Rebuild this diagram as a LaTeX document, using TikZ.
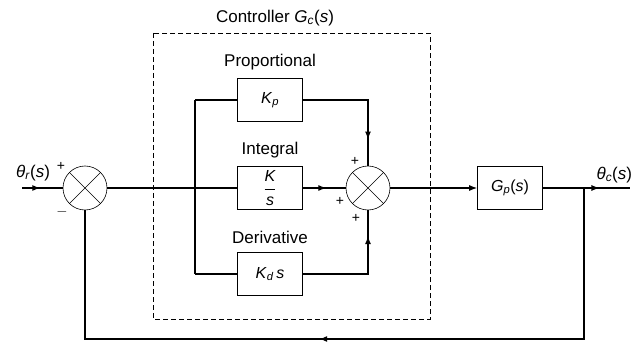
\documentclass[tikz,border=0pt]{standalone}
\usepackage{fontspec}
\setmainfont{Liberation Sans}
\usetikzlibrary{arrows.meta,decorations.markings}
\begin{document}
\begin{tikzpicture}[x=1pt,y=-1pt,
  sig/.style={line width=1.2pt},
  blk/.style={draw,line width=0.6pt,minimum width=65pt,minimum height=43pt,inner sep=0pt,font=\fontsize{16}{19}\selectfont},
  sumj/.style={draw,circle,line width=0.6pt,minimum size=44pt,inner sep=0pt},
  lbl/.style={font=\fontsize{17}{20}\selectfont},
  sgn/.style={font=\fontsize{14}{16}\selectfont,inner sep=0pt},
  midarrow/.style={postaction={decorate},decoration={markings,mark=at position #1 with {\arrow{Latex[length=8pt,width=6pt]}}}},
  endarrow/.style={-{Latex[length=8pt,width=6pt]}}
]
\useasboundingbox (0,0) rectangle (633,345);

% controller boundary
\draw[dashed,line width=0.6pt,dash pattern=on 5pt off 3pt] (153,33) rectangle (430,319);
\node[lbl] (title) at (275,18) {Controller \textit{G}\textsubscript{\textit{c}}(\textit{s})};

% blocks
\node[blk] (kp) at (270,100) {\textit{K}\textsubscript{\textit{p}}};
\node[blk] (ki) at (270,188) {$\displaystyle\frac{\hbox{\fontsize{16}{19}\selectfont\itshape K}}{\hbox{\fontsize{16}{19}\selectfont\itshape s}}$};
\node[blk] (kd) at (270,274) {\textit{K}\textsubscript{\textit{d}}\,\textit{s}};
\node[blk,minimum width=65pt] (gp) at (510,188) {\textit{G}\textsubscript{\textit{p}}(\textit{s})};

\node[lbl] (lp) at (270,62) {Proportional};
\node[lbl] (li) at (270,150) {Integral};
\node[lbl] (ld) at (270,237) {Derivative};

% summing junctions
\node[sumj] (s1) at (85,188) {};
\draw[line width=0.5pt] (s1.north west) -- (s1.south east) (s1.north east) -- (s1.south west);
\node[sumj] (s2) at (368,188) {};
\draw[line width=0.5pt] (s2.north west) -- (s2.south east) (s2.north east) -- (s2.south west);

\node[sgn] (p1) at (61,166) {+};
\node[sgn] (m1) at (62,212) {$-$};
\node[sgn] (p2a) at (355,161) {+};
\node[sgn] (p2b) at (340,201) {+};
\node[sgn] (p2c) at (356,218) {+};

% coordinates
\coordinate (in) at (22,188);
\coordinate (out) at (630,188);
\coordinate (br) at (195,188);
\coordinate (fb) at (584,188);
\coordinate (fbd) at (584,339);

\node[lbl,anchor=center] (tin) at (33,173) {\textit{θ}\textsubscript{\textit{r}}(\textit{s})};
\node[lbl,anchor=west] (tout) at (593,175) {\textit{θ}\textsubscript{\textit{c}}(\textit{s})};

% signal lines
\draw[sig,midarrow=0.45] (in) -- (s1.west);
\draw[sig] (s1.east) -- (ki.west);
\draw[sig] (kp.west -| br) -- (kd.west -| br);
\draw[sig] (kp.west -| br) -- (kp.west);
\draw[sig] (kd.west -| br) -- (kd.west);
\draw[sig,midarrow=0.8] (kp.east) -| (s2.north);
\draw[sig,midarrow=0.8] (kd.east) -| (s2.south);
\draw[sig,midarrow=0.55] (ki.east) -- (s2.west);
\draw[sig,endarrow] (s2.east) -- (gp.west);
\draw[sig,midarrow=0.65] (gp.east) -- (out);
\draw[sig,midarrow=0.534] (fb) -- (fbd) -| (s1.south);
\end{tikzpicture}
\end{document}
